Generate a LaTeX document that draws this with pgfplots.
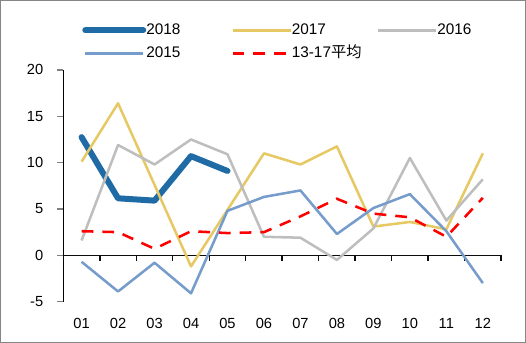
\documentclass[border=0pt]{standalone}
\usepackage{fontspec}
\setmainfont{Liberation Sans}
\newfontfamily\cjk{Noto Sans CJK SC}
\usepackage{pgfplots}
\pgfplotsset{compat=1.18}
\definecolor{c18}{RGB}{31,107,165}
\definecolor{c17}{RGB}{230,200,100}
\definecolor{c16}{RGB}{190,190,190}
\definecolor{c15}{RGB}{118,156,204}
\definecolor{cav}{RGB}{255,0,0}
\definecolor{framegray}{RGB}{134,134,134}
\definecolor{axisblack}{RGB}{12,12,12}
\pgfplotsset{leg18/.style={legend image code/.code={\draw[#1] (2.25pt,0pt) -- (38.25pt,0pt); \path (0pt,0pt) -- (43.5pt,0pt);}}}
\begin{document}
\begin{tikzpicture}
\useasboundingbox (0,0) rectangle (394.5pt,257.25pt);
\draw[framegray, line width=0.8pt] (0.4pt,0.4pt) rectangle (394.1pt,256.85pt);
\begin{axis}[at={(47.5pt,31pt)}, anchor=south west,
  scale only axis, width=328.3pt, height=173.8pt,
  xmin=0.5, xmax=12.5, ymin=-5, ymax=20, clip=false,
  axis lines*=left,
  x axis line style={draw=none},
  y axis line style={line width=1.1pt},
  xtick={1,...,12},
  xticklabels={01,02,03,04,05,06,07,08,09,10,11,12},
  xtick style={draw=none},
  ytick={-5,0,5,10,15,20},
  ytick style={line width=1.1pt},
  extra y ticks={0}, extra y tick labels={},
  extra y tick style={grid=major, major grid style={axisblack, line width=1.1pt}},
  tick align=outside, major tick length=4.5pt,
  font=\fontsize{11}{13}\selectfont,
  /pgf/number format/assume math mode=true,
  yticklabel style={anchor=east, inner xsep=0pt, xshift=-10.35pt},
  xticklabel style={anchor=north, inner ysep=0pt, yshift=-8pt},
  legend columns=3,
  legend style={draw=none, fill=none, inner sep=0pt, at={(0.0427,1.121)}, anchor=west,
    column sep=0pt, row sep=6.45pt,
    nodes={inner xsep=0pt, inner ysep=0pt, text height=8.3pt, text depth=2.5pt, text width=63.75pt, align=left, font=\fontsize{11.5}{13}\selectfont}},
  legend image code/.code={\draw[#1] (0pt,0pt) -- (40.5pt,0pt); \path (0pt,0pt) -- (43.5pt,0pt);},
]
% category axis at y = 0 (filled strip) with tick marks between the categories
\addplot[fill=axisblack, draw=none, forget plot]
  coordinates {(0.5,-0.079) (12.5,-0.079) (12.5,0.079) (0.5,0.079)};
\addplot[axisblack, line width=1.1pt, ycomb, forget plot] coordinates {
  (0.5,-0.6) (1.5,-0.6) (2.5,-0.6) (3.5,-0.6) (4.5,-0.6) (5.5,-0.6) (6.5,-0.6)
  (7.5,-0.6) (8.5,-0.6) (9.5,-0.6) (10.5,-0.6) (11.5,-0.6) (12.5,-0.6)};
\addplot[c18, line width=4.5pt, line cap=round, line join=round, leg18]
  coordinates {(1,12.75) (2,6.15) (3,5.9) (4,10.7) (5,9.1)};
\addlegendentry{2018}
\addplot[c17, line width=1.9pt, line join=round]
  coordinates {(1,10.1) (2,16.4) (3,7.6) (4,-1.2) (5,4.9) (6,11.0) (7,9.8) (8,11.75) (9,3.1) (10,3.6) (11,2.8) (12,11.0)};
\addlegendentry{2017}
\addplot[c16, line width=1.9pt, line join=round]
  coordinates {(1,1.6) (2,11.9) (3,9.8) (4,12.5) (5,10.9) (6,2.0) (7,1.9) (8,-0.5) (9,2.9) (10,10.5) (11,3.75) (12,8.2)};
\addlegendentry{2016}
\addplot[c15, line width=1.9pt, line join=round]
  coordinates {(1,-0.7) (2,-3.9) (3,-0.8) (4,-4.1) (5,4.8) (6,6.3) (7,7.0) (8,2.3) (9,5.1) (10,6.6) (11,2.6) (12,-3.0)};
\addlegendentry{2015}
\addplot[cav, line width=1.9pt, dash pattern=on 8.8pt off 6.75pt]
  coordinates {(1,2.6) (2,2.5) (3,0.7) (4,2.6) (5,2.4) (6,2.5) (7,4.2) (8,6.1) (9,4.5) (10,4.1) (11,2.0) (12,6.2)};
\addlegendentry{13-17{\cjk 平均}}
\end{axis}
\end{tikzpicture}
\end{document}
